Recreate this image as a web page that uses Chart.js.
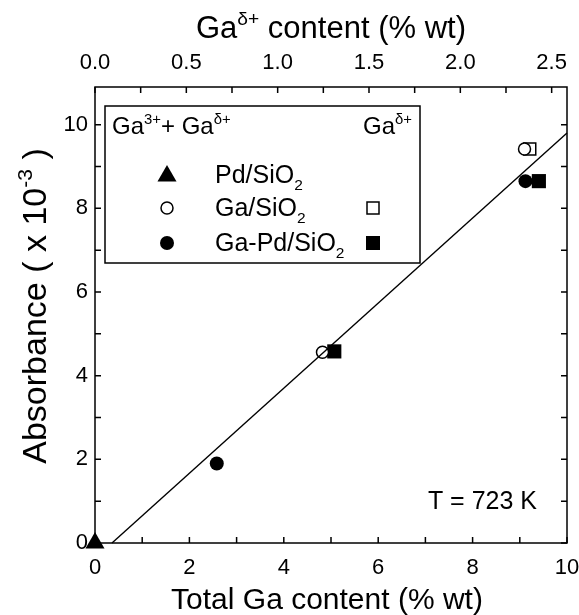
<!DOCTYPE html>
<html>
<head>
<meta charset="utf-8">
<script src="https://cdn.jsdelivr.net/npm/chart.js@4.4.0/dist/chart.umd.min.js"></script>
<style>
  html, body { margin: 0; padding: 0; background: #fff; }
</style>
</head>
<body>
<canvas id="chart" width="579" height="615"></canvas>
<script>
// axis ticks
const totalTicks = [0, 2, 4, 6, 8, 10];
const deltaTicks = [0, 0.5, 1, 1.5, 2, 2.5];
const absTicks = [0, 2, 4, 6, 8, 10];
const deltaMax = 10 / 3.87; // top axis spans the same width as 0-10 on the bottom

// Ga3+ + Gaδ+ (total Ga content, bottom axis)
const pdX = [0];
const pdY = [0];
const gaX = [4.82, 9.1];
const gaY = [4.56, 9.42];
const gaPdX = [2.58, 9.12];
const gaPdY = [1.9, 8.65];

// Gaδ+ only (top axis)
const gaDeltaX = [2.38];
const gaDeltaY = [9.42];
const gaPdDeltaX = [1.31, 2.43];
const gaPdDeltaY = [4.58, 8.65];

// linear fit
const fitX = [0.36, 10];
const fitY = [0, 9.8];

const FONT = '"Liberation Sans", Arial, Helvetica, sans-serif';

function pts(xs, ys) {
	return xs.map(function (x, i) { return { x: x, y: ys[i] }; });
}

// text with super/subscripts: runs = [[text, ''|'sup'|'sub'], ...]
function runsWidth(ctx, runs, size) {
	let w = 0;
	runs.forEach(function (r) {
		ctx.font = (r[1] ? size * 0.62 : size) + 'px ' + FONT;
		w += ctx.measureText(r[0]).width;
	});
	return w;
}

function drawRuns(ctx, runs, x, y, size, align) {
	let w = runsWidth(ctx, runs, size);
	let cx = align === 'center' ? x - w / 2 : (align === 'right' ? x - w : x);
	ctx.textAlign = 'left';
	ctx.textBaseline = 'alphabetic';
	runs.forEach(function (r) {
		let s = r[1] ? size * 0.62 : size;
		let dy = r[1] === 'sup' ? -size * 0.42 : (r[1] === 'sub' ? size * 0.28 : 0);
		ctx.font = s + 'px ' + FONT;
		ctx.fillText(r[0], cx, y + dy);
		cx += ctx.measureText(r[0]).width;
	});
}

function tri(ctx, x, y, r) {
	ctx.beginPath();
	ctx.moveTo(x, y - r);
	ctx.lineTo(x + r * 0.866, y + r * 0.5);
	ctx.lineTo(x - r * 0.866, y + r * 0.5);
	ctx.closePath();
	ctx.fill();
}

const framePlugin = {
	id: 'frame',
	afterDraw: function (chart) {
		const ctx = chart.ctx;
		const ca = chart.chartArea;
		const sx = chart.scales.x, sx2 = chart.scales.x2, sy = chart.scales.y;
		ctx.save();
		ctx.strokeStyle = '#000';
		ctx.fillStyle = '#000';
		ctx.lineWidth = 1.5;
		ctx.strokeRect(ca.left, ca.top, ca.right - ca.left, ca.bottom - ca.top);

		// inward tick marks
		const tl = 6;
		ctx.beginPath();
		for (let v = 0; v <= 10; v++) {
			let px = sx.getPixelForValue(v);
			ctx.moveTo(px, ca.bottom); ctx.lineTo(px, ca.bottom - tl);
			let py = sy.getPixelForValue(v);
			ctx.moveTo(ca.left, py); ctx.lineTo(ca.left + tl, py);
			ctx.moveTo(ca.right, py); ctx.lineTo(ca.right - tl, py);
		}
		for (let v = 0; v <= 2.5; v += 0.25) {
			let px = sx2.getPixelForValue(v);
			ctx.moveTo(px, ca.top); ctx.lineTo(px, ca.top + tl);
		}
		ctx.stroke();

		// axis titles
		drawRuns(ctx, [['Total Ga content (% wt)', '']], 327, 609, 30, 'center');
		drawRuns(ctx, [['Ga', ''], ['\u03b4+', 'sup'], [' content (% wt)', '']], (ca.left + ca.right) / 2, 38, 31, 'center');
		ctx.save();
		ctx.translate(46, 306);
		ctx.rotate(-Math.PI / 2);
		drawRuns(ctx, [['Absorbance ( x 10', ''], ['-3', 'sup'], [' )', '']], 0, 0, 34, 'center');
		ctx.restore();

		// legend box
		const bx = ca.left + 10, by = ca.top + 19;
		ctx.lineWidth = 1.5;
		ctx.strokeRect(bx, by, 315, 157);
		drawRuns(ctx, [['Ga', ''], ['3+', 'sup'], ['+ Ga', ''], ['\u03b4+', 'sup']], bx + 7, by + 28, 24, 'left');
		drawRuns(ctx, [['Ga', ''], ['\u03b4+', 'sup']], bx + 258, by + 28, 24, 'left');

		const mx = bx + 62, tx = bx + 110, qx = bx + 268;
		tri(ctx, mx, by + 70, 11);
		drawRuns(ctx, [['Pd/SiO', ''], ['2', 'sub']], tx, by + 77, 25, 'left');

		ctx.beginPath();
		ctx.arc(mx, by + 102, 6, 0, Math.PI * 2);
		ctx.stroke();
		drawRuns(ctx, [['Ga/SiO', ''], ['2', 'sub']], tx, by + 110, 25, 'left');
		ctx.strokeRect(qx - 6, by + 96, 12, 12);

		ctx.beginPath();
		ctx.arc(mx, by + 137, 7, 0, Math.PI * 2);
		ctx.fill();
		drawRuns(ctx, [['Ga-Pd/SiO', ''], ['2', 'sub']], tx, by + 145, 25, 'left');
		ctx.fillRect(qx - 7, by + 130, 14, 14);

		drawRuns(ctx, [['T = 723 K', '']], ca.right - 30, ca.bottom - 34, 25, 'right');
		ctx.restore();
	}
};

new Chart(document.getElementById('chart'), {
	type: 'scatter',
	data: {
		datasets: [
			{
				type: 'line',
				data: pts(fitX, fitY),
				borderColor: '#000',
				borderWidth: 1.4,
				pointRadius: 0,
				fill: false
			},
			{
				data: pts(pdX, pdY),
				pointStyle: 'triangle',
				pointRadius: 11,
				backgroundColor: '#000',
				borderWidth: 0
			},
			{
				data: pts(gaX, gaY),
				pointStyle: 'circle',
				pointRadius: 6,
				backgroundColor: '#fff',
				borderColor: '#000',
				borderWidth: 1.5
			},
			{
				data: pts(gaPdX, gaPdY),
				pointStyle: 'circle',
				pointRadius: 7,
				backgroundColor: '#000',
				borderWidth: 0
			},
			{
				xAxisID: 'x2',
				data: pts(gaDeltaX, gaDeltaY),
				pointStyle: 'rect',
				pointRadius: 8.5,
				backgroundColor: '#fff',
				borderColor: '#000',
				borderWidth: 1.5
			},
			{
				xAxisID: 'x2',
				data: pts(gaPdDeltaX, gaPdDeltaY),
				pointStyle: 'rect',
				pointRadius: 10,
				backgroundColor: '#000',
				borderWidth: 0
			}
		]
	},
	options: {
		responsive: false,
		animation: false,
		clip: false,
		layout: { padding: { left: 0, right: 12, top: 0, bottom: 0 } },
		plugins: { legend: { display: false }, tooltip: { enabled: false } },
		scales: {
			x: {
				type: 'linear',
				position: 'bottom',
				min: 0,
				max: 10,
				grid: { display: false, drawTicks: false },
				border: { display: false },
				afterBuildTicks: function (s) { s.ticks = totalTicks.map(function (v) { return { value: v }; }); },
				afterFit: function (s) { s.height = 72; s.paddingLeft = 0; s.paddingRight = 0; },
				ticks: { padding: 12, color: '#000', font: { size: 22, family: FONT } }
			},
			x2: {
				type: 'linear',
				position: 'top',
				min: 0,
				max: deltaMax,
				grid: { display: false, drawTicks: false },
				border: { display: false },
				afterBuildTicks: function (s) { s.ticks = deltaTicks.map(function (v) { return { value: v }; }); },
				afterFit: function (s) { s.height = 87; s.paddingLeft = 0; s.paddingRight = 0; },
				ticks: {
					padding: 11,
					color: '#000',
					font: { size: 22, family: FONT },
					callback: function (v) { return Number(v).toFixed(1); }
				}
			},
			y: {
				type: 'linear',
				min: 0,
				max: 10.9,
				grid: { display: false, drawTicks: false },
				border: { display: false },
				afterBuildTicks: function (s) { s.ticks = absTicks.map(function (v) { return { value: v }; }); },
				afterFit: function (s) { s.width = 95; s.paddingTop = 0; s.paddingBottom = 0; },
				ticks: { padding: 7, color: '#000', font: { size: 22, family: FONT } }
			}
		}
	},
	plugins: [framePlugin]
});
</script>
</body>
</html>
